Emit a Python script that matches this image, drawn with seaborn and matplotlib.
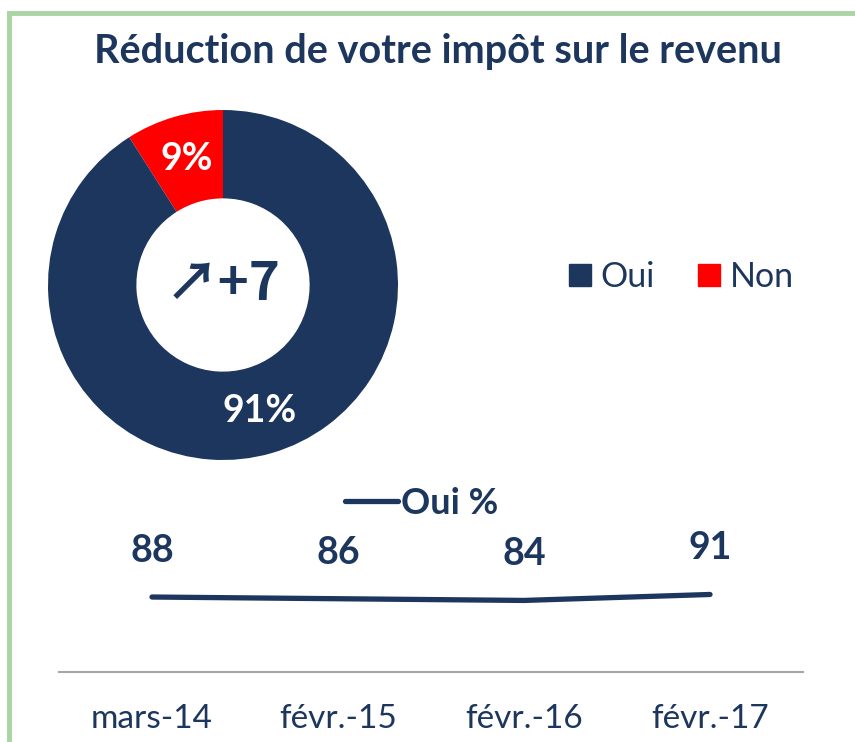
import matplotlib
matplotlib.use("Agg")
import matplotlib.pyplot as plt
from matplotlib.lines import Line2D
import seaborn as sns
import pandas as pd

# ---- data ----
title = "Réduction de votre impôt sur le revenu"
donut_labels = ["Non", "Oui"]
donut_values = [9, 91]
center_text = "\u2197+7"
periods = ["mars-14", "févr.-15", "févr.-16", "févr.-17"]
oui_values = [88, 86, 84, 91]
series_name = "Oui %"

NAVY = "#1d365e"
RED = "#ff0000"
GREEN = "#a9d5a4"
GRAY = "#a6a6a6"

sns.set_theme(style="white")
plt.rcParams["font.family"] = ["Lato", "DejaVu Sans"]

W, H = 855, 742
fig = plt.figure(figsize=(W / 100, H / 100), dpi=100)
fig.patch.set_facecolor("white")

def fx(px):
    return px / W

def fy(py):
    return 1 - py / H

# green frame (top and left)
fig.add_artist(Line2D([fx(9), 1.0], [fy(13), fy(13)], color=GREEN, lw=3.5,
                      transform=fig.transFigure, solid_capstyle="projecting"))
fig.add_artist(Line2D([fx(9), fx(9)], [fy(13), 0.0], color=GREEN, lw=3.5,
                      transform=fig.transFigure, solid_capstyle="projecting"))

# title
fig.text(fx(438), fy(51), title, ha="center", va="center", fontsize=28.5,
         fontweight="bold", color=NAVY)

# ---- donut ----
cx, cy, r = 223, 285, 175
axd = fig.add_axes([fx(cx - r), fy(cy + r), (2 * r) / W, (2 * r) / H])
wedges, texts, autotexts = axd.pie(
    donut_values, colors=[RED, NAVY], startangle=90, counterclock=True,
    wedgeprops=dict(width=0.505, edgecolor="none"),
    autopct=lambda p: f"{p:.0f}%", pctdistance=0.75,
    textprops=dict(color="white", fontsize=27, fontweight="bold"))
axd.set_xlim(-1, 1)
axd.set_ylim(-1, 1)
axd.set_aspect("equal")
axd.text(0, 0, center_text, ha="center", va="center", fontsize=38,
         fontweight="bold", color=NAVY, family=["Noto Sans CJK JP", "DejaVu Sans"])

# donut legend
handles = [Line2D([], [], marker="s", linestyle="none", markersize=15.5,
                  markerfacecolor=NAVY, markeredgecolor=NAVY),
           Line2D([], [], marker="s", linestyle="none", markersize=15.5,
                  markerfacecolor=RED, markeredgecolor=RED)]
fig.legend(handles, ["Oui", "Non"], loc="center", bbox_to_anchor=(fx(680), fy(277)),
           ncol=2, frameon=False, fontsize=24.5, handletextpad=0.2,
           columnspacing=1.2, labelcolor=NAVY, handlelength=0.8)

# ---- line chart ----
df = pd.DataFrame({"period": periods, "value": oui_values, "idx": range(len(periods))})
axl = fig.add_axes([fx(59), fy(672), 744 / W, 85.2 / H])
sns.lineplot(data=df, x="idx", y="value", ax=axl, color=NAVY, lw=3.8,
             label=series_name, solid_capstyle="round")
axl.set_xlim(-0.5, len(periods) - 0.5)
axl.set_ylim(0, 100)
axl.set_xticks(range(len(periods)))
axl.set_xticklabels(periods, fontsize=24, color=NAVY)
axl.set_yticks([])
axl.set_xlabel("")
axl.set_ylabel("")
axl.tick_params(axis="x", length=0, pad=23)
for s in ["top", "left", "right"]:
    axl.spines[s].set_visible(False)
axl.spines["bottom"].set_color(GRAY)
axl.spines["bottom"].set_linewidth(1.5)
axl.patch.set_alpha(0)
for i, v in enumerate(oui_values):
    axl.annotate(f"{v}", (i, v), xytext=(0, 21), textcoords="offset points",
                 ha="center", va="bottom", fontsize=27, fontweight="bold",
                 color=NAVY)
leg = axl.legend(loc="center", bbox_to_anchor=(fx(422), fy(503)),
                 bbox_transform=fig.transFigure, frameon=False,
                 prop=dict(size=26, weight="bold"), handlelength=1.45,
                 handletextpad=0.1, labelcolor=NAVY)

fig.savefig("out.png", dpi=100)
